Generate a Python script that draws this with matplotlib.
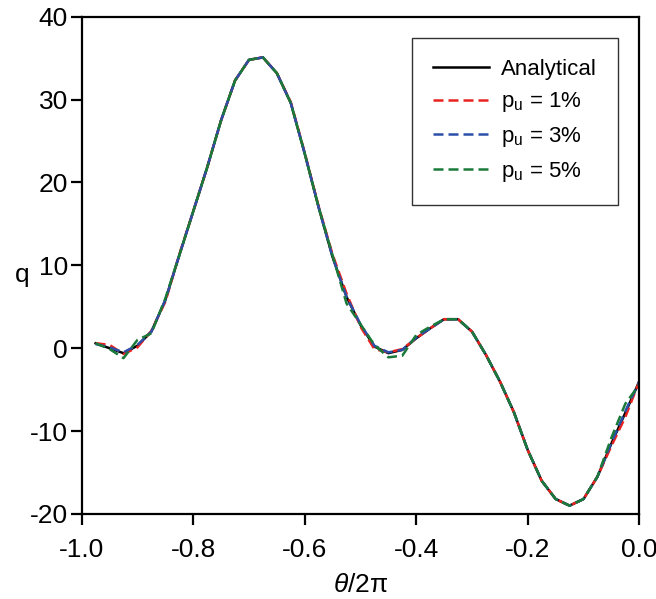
import matplotlib
matplotlib.use("Agg")
import matplotlib.pyplot as plt
import numpy as np

plt.rcParams['font.family'] = ['Liberation Sans', 'DejaVu Sans']
plt.rcParams['mathtext.fontset'] = 'custom'
plt.rcParams['mathtext.rm'] = 'Liberation Sans'
plt.rcParams['mathtext.it'] = 'Liberation Sans:italic'

theta = [-0.975, -0.95, -0.925, -0.90, -0.875, -0.85, -0.825, -0.80, -0.775, -0.75,
         -0.725, -0.70, -0.675, -0.65, -0.625, -0.60, -0.575, -0.55, -0.525, -0.50,
         -0.475, -0.45, -0.425, -0.40, -0.375, -0.35, -0.325, -0.30, -0.275, -0.25,
         -0.225, -0.20, -0.175, -0.15, -0.125, -0.10, -0.075, -0.05, -0.025, 0.0]

q_analytical = [0.6, 0.0, -0.6, 0.3, 2.0, 5.8, 11.2, 16.5, 21.8, 27.5,
                32.3, 34.8, 35.1, 33.2, 29.6, 23.5, 17.0, 11.0, 6.2, 2.8,
                0.2, -0.6, -0.2, 1.2, 2.4, 3.5, 3.5, 2.0, -0.8, -4.0,
                -7.7, -12.3, -16.0, -18.2, -19.0, -18.2, -15.5, -11.5, -7.8, -4.0]

q_p1 = [0.6, 0.4, -0.7, 0.1, 2.1, 5.6, 11.3, 16.5, 21.8, 27.5,
        32.3, 34.8, 35.1, 33.2, 29.7, 23.6, 17.1, 11.3, 6.6, 2.6,
        -0.1, -0.5, -0.1, 1.2, 2.4, 3.5, 3.5, 2.0, -0.8, -4.0,
        -7.7, -12.3, -16.0, -18.2, -19.0, -18.2, -15.5, -11.8, -8.3, -4.0]

q_p3 = [0.5, 0.1, -0.5, 0.4, 2.0, 5.8, 11.2, 16.5, 21.8, 27.5,
        32.3, 34.8, 35.1, 33.2, 29.6, 23.5, 17.0, 11.0, 6.2, 2.9,
        0.3, -0.5, -0.2, 1.3, 2.4, 3.5, 3.5, 2.0, -0.8, -4.0,
        -7.7, -12.3, -16.0, -18.2, -19.0, -18.2, -15.5, -11.4, -7.6, -4.0]

q_p5 = [0.6, -0.1, -1.2, 1.0, 1.8, 6.0, 11.2, 16.5, 21.8, 27.5,
        32.3, 34.8, 35.1, 33.2, 29.6, 23.5, 17.0, 11.2, 5.4, 2.9,
        0.4, -1.1, -0.9, 1.6, 2.6, 3.5, 3.5, 2.0, -0.8, -4.0,
        -7.7, -12.3, -16.0, -18.2, -19.0, -18.2, -15.5, -10.8, -6.7, -4.4]

labels = ['Analytical', r'p$_\mathregular{u}$ = 1%', r'p$_\mathregular{u}$ = 3%', r'p$_\mathregular{u}$ = 5%']
colors = ['black', '#e8231f', '#2b4fa8', '#1a7a3a']

fig = plt.figure(figsize=(6.56, 5.99), dpi=100)
ax = fig.add_axes([0.1245, 0.142, 0.850, 0.830])

ax.plot(theta, q_analytical, color=colors[0], lw=1.8, label=labels[0])
for ys, c, lab in zip([q_p1, q_p3, q_p5], colors[1:], labels[1:]):
    ax.plot(theta, ys, color=c, lw=1.8, ls=(0, (4.0, 2.0)), label=lab)

ax.set_xlim(-1.0, 0.0)
ax.set_ylim(-20, 40)
ax.set_xticks([-1.0, -0.8, -0.6, -0.4, -0.2, 0.0])
ax.set_xticklabels(['-1.0', '-0.8', '-0.6', '-0.4', '-0.2', '0.0'])
ax.set_yticks([-20, -10, 0, 10, 20, 30, 40])
ax.set_yticklabels(['-20', '-10', '0', '10', '20', '30', '40'])
ax.tick_params(direction='out', length=8, width=1.6, labelsize=19, pad=2)
ax.tick_params(axis='x', pad=9)
for s in ax.spines.values():
    s.set_linewidth(1.6)

ax.set_xlabel(r'$\it{\theta}$/2π', fontsize=19, labelpad=8)
ax.set_ylabel('q', fontsize=19, rotation=0, va='center', ha='center')
ax.yaxis.set_label_coords(-0.107, 0.48)

leg = ax.legend(loc='upper right', bbox_to_anchor=(0.962, 0.958), borderaxespad=0,
                fontsize=16, frameon=True, fancybox=False, edgecolor='black',
                handlelength=2.5, handletextpad=0.55, labelspacing=0.48,
                borderpad=0.95)
leg.get_frame().set_linewidth(1.0)

fig.savefig('out.png', dpi=100)
